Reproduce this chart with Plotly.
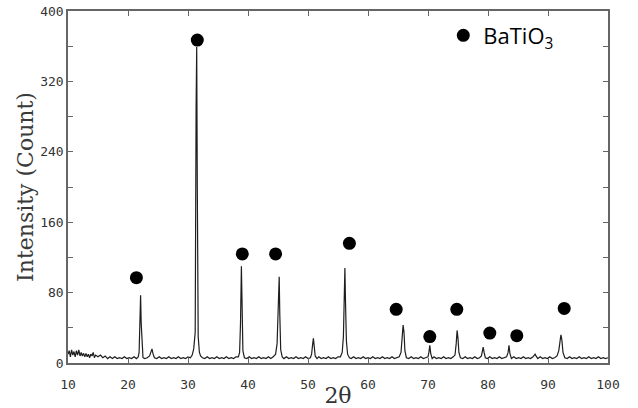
import plotly.graph_objects as go

# XRD pattern of the BaTiO3 sample: 2-theta (degrees) and measured counts
two_theta = [
    10.0, 10.2, 10.4, 10.6, 10.8, 11.0, 11.2, 11.4, 11.6, 11.8, 12.0, 12.2, 12.4, 12.6, 12.8,
    13.0, 13.2, 13.4, 13.6, 13.8, 14.0, 14.2, 14.4, 14.6, 15.0, 15.4, 15.8, 16.2, 16.6, 17.0,
    17.4, 17.8, 18.2, 18.6, 19.0, 19.4, 19.8, 20.2, 20.6, 21.0, 21.4, 21.7,
    21.85, 22.0, 22.1, 22.2, 22.35, 22.5,
    22.8, 23.2, 23.6, 23.85, 24.0, 24.15, 24.4, 24.8, 25.2, 25.6, 26.0, 26.4, 26.8, 27.2, 27.6,
    28.0, 28.4, 28.8, 29.2, 29.6, 30.0, 30.4, 30.7, 30.95,
    31.2, 31.35, 31.45, 31.55, 31.7, 31.9, 32.1,
    32.4, 32.8, 33.2, 33.6, 34.0, 34.4, 34.8, 35.2, 35.6, 36.0, 36.4, 36.8, 37.2, 37.6, 38.0,
    38.4, 38.6,
    38.75, 38.9, 39.0, 39.15, 39.4,
    39.8, 40.2, 40.6, 41.0, 41.4, 41.8, 42.2, 42.6, 43.0, 43.4, 43.8, 44.2, 44.6, 44.85,
    45.05, 45.2, 45.3, 45.45, 45.7,
    46.0, 46.4, 46.8, 47.2, 47.6, 48.0, 48.4, 48.8, 49.2, 49.6, 50.0, 50.4, 50.6,
    50.75, 50.9, 51.05, 51.2, 51.5,
    51.8, 52.2, 52.6, 53.0, 53.4, 53.8, 54.2, 54.6, 55.0, 55.4, 55.7, 55.9,
    56.05, 56.15, 56.25, 56.4, 56.6, 56.9,
    57.2, 57.6, 58.0, 58.4, 58.8, 59.2, 59.6, 60.0, 60.4, 60.8, 61.2, 61.6, 62.0, 62.4, 62.8,
    63.2, 63.6, 64.0, 64.4, 64.8, 65.2, 65.5,
    65.7, 65.85, 66.0, 66.15, 66.4,
    66.8, 67.2, 67.6, 68.0, 68.4, 68.8, 69.2, 69.6, 70.0,
    70.15, 70.3, 70.45, 70.7,
    71.0, 71.4, 71.8, 72.2, 72.6, 73.0, 73.4, 73.8, 74.2, 74.5,
    74.7, 74.85, 75.0, 75.15, 75.4,
    75.8, 76.2, 76.6, 77.0, 77.4, 77.8, 78.2, 78.6, 78.9,
    79.05, 79.2, 79.35, 79.55,
    79.9, 80.3, 80.7, 81.1, 81.5, 81.9, 82.3, 82.7, 83.1,
    83.35, 83.5, 83.65, 83.9,
    84.3, 84.7, 85.1, 85.5, 85.9, 86.3, 86.7, 87.1, 87.5,
    87.7, 87.85, 88.0, 88.3,
    88.7, 89.1, 89.5, 89.9, 90.3, 90.7, 91.1, 91.5, 91.8,
    92.0, 92.15, 92.3, 92.5, 92.8,
    93.2, 93.6, 94.0, 94.4, 94.8, 95.2, 95.6, 96.0, 96.4, 96.8, 97.2, 97.6, 98.0, 98.4, 98.8,
    99.2, 99.6, 100.0,
]
counts = [
    10, 14, 7, 15, 9, 13, 7, 14, 9, 15, 8, 12, 8, 11, 7,
    11, 7, 10, 6, 10, 8, 12, 6, 9, 7, 9, 6, 8, 5, 7,
    5, 7, 5, 6, 5, 7, 5, 6, 5, 7, 5, 7,
    12, 40, 77, 45, 12, 6,
    5, 6, 8, 12, 16, 11, 6, 5, 7, 5, 6, 5, 7, 5, 6,
    5, 7, 5, 6, 5, 7, 6, 9, 16,
    35, 290, 359, 200, 30, 12, 8,
    6, 5, 7, 5, 6, 5, 7, 5, 6, 5, 7, 5, 6, 5, 7,
    7, 12,
    45, 110, 60, 14, 6,
    5, 7, 5, 6, 5, 7, 5, 6, 5, 7, 5, 7, 10, 22,
    60, 98, 55, 15, 7,
    5, 7, 5, 6, 5, 7, 5, 6, 5, 7, 5, 6, 10,
    20, 28, 18, 8, 5,
    7, 5, 6, 5, 7, 5, 6, 5, 7, 7, 12, 30,
    80, 108, 70, 25, 10, 6,
    5, 7, 5, 6, 5, 7, 5, 6, 5, 7, 5, 6, 5, 7, 5,
    6, 5, 7, 5, 6, 7, 12,
    30, 43, 35, 14, 6,
    5, 7, 5, 6, 5, 7, 5, 6, 7,
    12, 20, 11, 5,
    7, 5, 6, 5, 7, 5, 6, 5, 7, 9,
    22, 37, 28, 12, 6,
    5, 7, 5, 6, 5, 7, 5, 6, 8,
    13, 18, 12, 6,
    5, 7, 5, 6, 5, 7, 5, 6, 7,
    12, 20, 11, 5,
    7, 5, 6, 5, 7, 5, 6, 5, 7,
    9, 10, 8, 5,
    7, 5, 6, 5, 7, 5, 6, 8, 14,
    25, 32, 27, 12, 6,
    5, 7, 5, 6, 5, 7, 5, 6, 5, 7, 5, 6, 5, 7, 5,
    6, 5, 6,
]

# Reflections indexed to BaTiO3 (marker positions above the peaks)
phase_two_theta = [21.4, 31.55, 39.05, 44.6, 56.9, 64.7, 70.3, 74.8, 80.3, 84.8, 92.7]
phase_marker_y = [97, 367, 124, 124, 136, 61, 30, 61, 34, 31, 62]

x_ticks = [10, 20, 30, 40, 50, 60, 70, 80, 90, 100]
y_ticks = [0, 80, 160, 240, 320, 400]

fig = go.Figure()
fig.add_trace(go.Scatter(
    x=two_theta, y=counts, mode="lines",
    line=dict(color="#1e1e1e", width=1.2),
    showlegend=False, hoverinfo="skip",
))
fig.add_trace(go.Scatter(
    x=phase_two_theta, y=phase_marker_y, mode="markers",
    marker=dict(color="black", size=13),
    name="BaTiO<sub>3</sub>",
))

tick_font = dict(family="DejaVu Sans Mono", size=13, color="#333333")

fig.update_layout(
    width=638, height=408,
    margin=dict(l=68, r=30, t=11, b=45),
    paper_bgcolor="white", plot_bgcolor="white",
    legend=dict(
        x=0.695, y=0.99, xanchor="left", yanchor="top",
        font=dict(family="Open Sans", size=22, color="black"),
        bgcolor="rgba(0,0,0,0)", itemwidth=30,
    ),
    xaxis=dict(
        range=[10, 100], tickvals=x_ticks, ticktext=[str(v) for v in x_ticks],
        ticks="inside", ticklen=5, tickcolor="#666", tickwidth=1,
        showline=True, linecolor="#666", linewidth=1.5, mirror="ticks",
        showgrid=False, zeroline=False, tickfont=tick_font, ticklabelstandoff=9,
        automargin=False,
        title=dict(text="2θ", font=dict(family="DejaVu Serif", size=22, color="#333"), standoff=0),
    ),
    yaxis=dict(
        range=[0, 400], tickvals=y_ticks, ticktext=[str(v) for v in y_ticks],
        ticks="inside", ticklen=5, tickcolor="#666", tickwidth=1,
        minor=dict(tickvals=[40, 120, 200, 280, 360], ticks="inside", ticklen=5, tickcolor="#666"),
        showline=True, linecolor="#666", linewidth=1.5, mirror="ticks",
        showgrid=False, zeroline=False, tickfont=tick_font, automargin=False,
        title=dict(text="Intensity (Count)",
                   font=dict(family="DejaVu Serif", size=22, color="#3a3a3a"), standoff=0),
    ),
)

fig.write_html("out.html")
